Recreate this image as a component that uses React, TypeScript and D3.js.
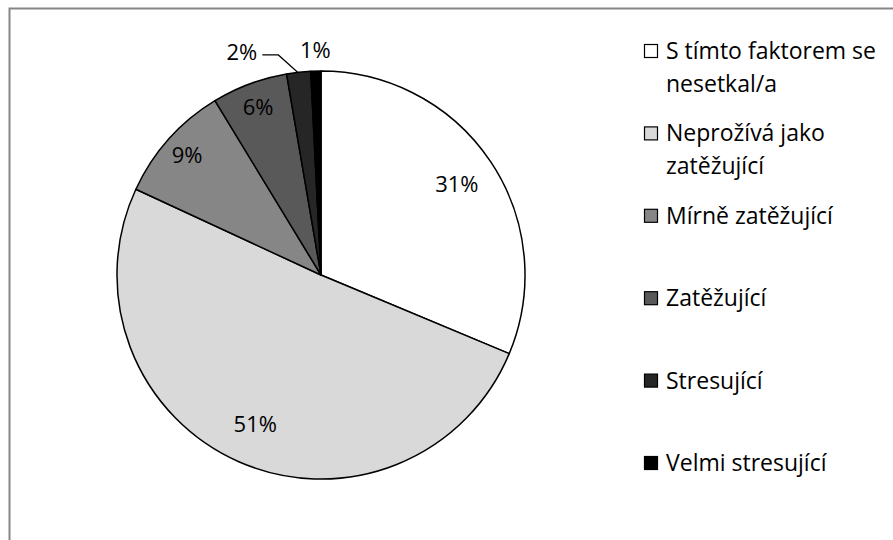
import React, { useEffect, useRef } from 'react'
import * as d3 from 'd3'

const categories = [
  'S tímto faktorem se nesetkal/a',
  'Neprožívá jako zatěžující',
  'Mírně zatěžující',
  'Zatěžující',
  'Stresující',
  'Velmi stresující'
]
const legendLines = [
  ['S tímto faktorem se', 'nesetkal/a'],
  ['Neprožívá jako', 'zatěžující'],
  ['Mírně zatěžující'],
  ['Zatěžující'],
  ['Stresující'],
  ['Velmi stresující']
]
const shares = [31.3, 50.6, 9.4, 6.0, 1.9, 0.8]
const fills = ['#ffffff', '#d9d9d9', '#868686', '#595959', '#262626', '#000000']

const FONT = '"Open Sans", Lato, sans-serif'

const App = () => {
  const ref = useRef<SVGSVGElement>(null)

  useEffect(() => {
    const svg = d3.select(ref.current)
    svg.selectAll('*').remove()

    const width = 893
    const height = 540
    const cx = 321
    const cy = 275
    const radius = 204

    // chart frame (right and bottom edges fall outside the picture)
    svg.append('rect')
      .attr('x', 9.5).attr('y', 8.5)
      .attr('width', width).attr('height', height)
      .attr('fill', '#fff')
      .attr('stroke', '#868686')
      .attr('stroke-width', 2)

    const data = categories.map((c, i) => ({ name: c, value: shares[i], fill: fills[i] }))
    const total = d3.sum(data, d => d.value)
    const pie = d3.pie<any>().sort(null).value(d => d.value)
    const arcs = pie(data)
    const arc = d3.arc<any>().innerRadius(0).outerRadius(radius)

    const g = svg.append('g').attr('transform', `translate(${cx},${cy})`)

    g.selectAll('path.slice')
      .data(arcs)
      .enter()
      .append('path')
      .attr('class', 'slice')
      .attr('d', arc)
      .attr('fill', d => d.data.fill)
      .attr('stroke', '#000')
      .attr('stroke-width', 1.5)
      .attr('stroke-linejoin', 'round')

    const pct = (d: any) => `${Math.round(d.data.value / total * 100)}%`
    const pointAt = (a: number, r: number) => [Math.sin(a) * r, -Math.cos(a) * r]

    // inside labels
    arcs.forEach(d => {
      const frac = d.data.value / total
      if (frac < 0.03) return
      const mid = (d.startAngle + d.endAngle) / 2
      const r = frac > 0.2 ? radius * 0.8 : radius * 0.88
      const [x, y] = pointAt(mid, r)
      g.append('text')
        .attr('x', x).attr('y', y)
        .attr('dy', '0.35em')
        .attr('text-anchor', 'middle')
        .style('font-family', FONT)
        .style('font-size', '22px')
        .attr('fill', '#000')
        .text(pct(d))
    })

    // outside labels for thin slices, placed right-to-left
    const small = arcs.filter(d => d.data.value / total < 0.03).reverse()
    let prevLeft = Infinity
    small.forEach(d => {
      const mid = (d.startAngle + d.endAngle) / 2
      const [ax, ay] = pointAt(mid, radius)
      const [nx, ny] = pointAt(mid, radius * 1.1)
      const w = 31
      let x = nx
      const y = ny
      if (x + w / 2 > prevLeft - 14) {
        x = prevLeft - 58
        const tx = x + w / 2 + 5
        g.append('path')
          .attr('d', d3.line()([[tx, y + 3], [tx + 16, y + 3], [ax - 1, ay]]) as string)
          .attr('fill', 'none')
          .attr('stroke', '#000')
          .attr('stroke-width', 1.2)
      }
      prevLeft = x - w / 2
      g.append('text')
        .attr('x', x).attr('y', y)
        .attr('dy', '0.35em')
        .attr('text-anchor', 'middle')
        .style('font-family', FONT)
        .style('font-size', '22px')
        .attr('fill', '#000')
        .text(pct(d))
    })

    // legend
    const legend = svg.append('g').attr('transform', 'translate(644,51)')
    const rowY = d3.scalePoint<number>().domain(d3.range(categories.length)).range([0, 412])
    categories.forEach((c, i) => {
      const row = legend.append('g').attr('transform', `translate(0,${rowY(i)})`)
      row.append('rect')
        .attr('x', 0.5).attr('y', -6.5)
        .attr('width', 13).attr('height', 13)
        .attr('fill', fills[i])
        .attr('stroke', '#000')
        .attr('stroke-width', 1.2)
      legendLines[i].forEach((line, j) => {
        row.append('text')
          .attr('x', 22).attr('y', j * 33)
          .attr('dy', '0.35em')
          .style('font-family', FONT)
          .style('font-size', '23px')
          .attr('fill', '#000')
          .text(line)
      })
    })
  }, [])

  return (
    <svg ref={ref} width={893} height={540}
      style={{ position: 'absolute', left: 0, top: 0, background: '#fff' }} />
  )
}

export default App
